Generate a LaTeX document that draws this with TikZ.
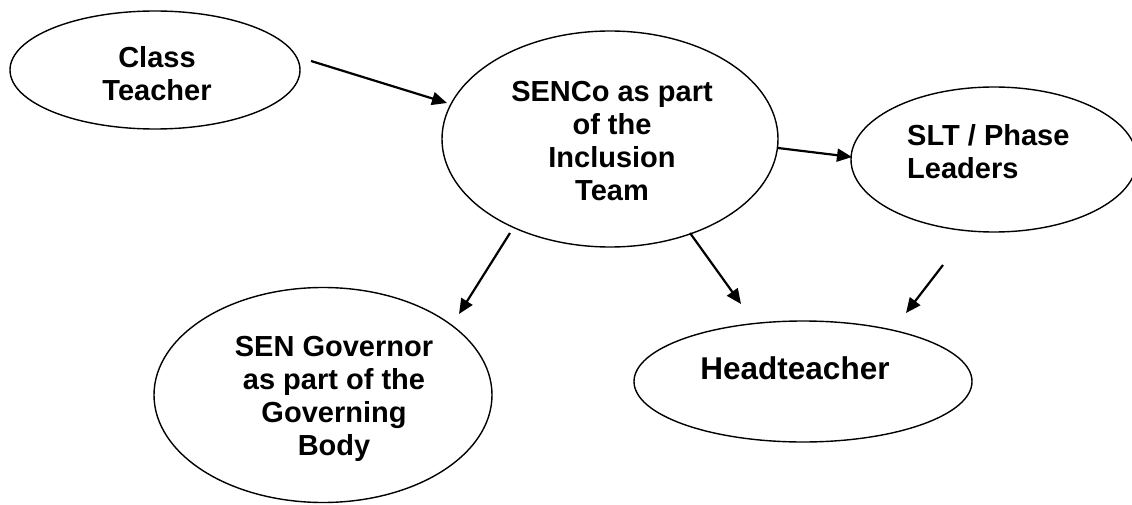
\documentclass[tikz,border=0pt]{standalone}
\usepackage{fontspec}
\setmainfont{Liberation Sans}
\usetikzlibrary{shapes.geometric,arrows.meta}
\begin{document}
\begin{tikzpicture}[x=1pt,y=-1pt,
  oval/.style={draw=black,line width=1.4pt,ellipse,inner sep=0pt,outer sep=0pt},
  txt/.style={font=\bfseries\fontsize{29}{33}\selectfont,align=center,inner sep=0pt},
  conn/.style={line width=2.2pt,-{Triangle[length=15pt,width=13pt]}}]
\useasboundingbox (0,0) rectangle (1132,505);
% ellipses
\node[oval,minimum width=290pt,minimum height=118pt] (ct) at (155,70) {};
\node[oval,minimum width=336pt,minimum height=216pt] (senco) at (610,139) {};
\node[oval,minimum width=286pt,minimum height=145pt] (slt) at (994,159.5) {};
\node[oval,minimum width=338pt,minimum height=215pt] (gov) at (323,395) {};
\node[oval,minimum width=338pt,minimum height=121pt] (head) at (803,381.5) {};
% texts
\node[txt] (ctT) at (157,74) {Class\\Teacher};
\node[txt] (sencoT) at (612,141) {SENCo as part\\of the\\Inclusion\\Team};
\node[txt,align=left,anchor=west] (sltT) at (907,152) {SLT / Phase\\Leaders};
\node[txt] (govT) at (334,399) {SEN Governor\\as part of the\\Governing\\Body};
\node[txt,font=\bfseries\fontsize{31.5}{36}\selectfont] (headT) at (795,368) {Headteacher};
% connector end points
\coordinate (a1) at (311,61);  \coordinate (b1) at (447,103);
\coordinate (a2) at (778,148); \coordinate (b2) at (852,157);
\coordinate (a3) at (510,233); \coordinate (b3) at (459,314);
\coordinate (a4) at (690,233); \coordinate (b4) at (741,304);
\coordinate (a5) at (943,265); \coordinate (b5) at (906,313);
\draw[conn] (a1) -- (b1);
\draw[conn] (a2) -- (b2);
\draw[conn] (a3) -- (b3);
\draw[conn] (a4) -- (b4);
\draw[conn] (a5) -- (b5);
\end{tikzpicture}
\end{document}
